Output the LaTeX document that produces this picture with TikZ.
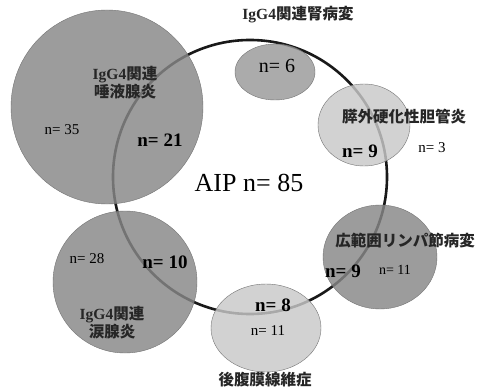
\documentclass[tikz,border=0pt]{standalone}
\usepackage{fontspec}
\setmainfont{Liberation Serif}
\newfontfamily\cjk{Noto Sans CJK JP}
\tikzset{
  venn/.style={draw=black!55, line width=0.4pt, fill opacity=0.82},
  dark/.style={venn, fill=black!47},
  mid/.style={venn, fill=black!40},
  light/.style={venn, fill=black!21},
  lbl/.style={font=\cjk\bfseries\fontsize{15.5}{18}\selectfont, text=black!85, inner sep=0pt, align=center},
  nsmall/.style={font=\fontsize{15}{17}\selectfont, inner sep=0pt},
  nbig/.style={font=\bfseries\fontsize{19}{21}\selectfont, inner sep=0pt},
}
\newcommand{\igg}{{\fontspec{Liberation Serif}\bfseries IgG4}}
\begin{document}
\begin{tikzpicture}[x=1pt,y=-1pt]
\useasboundingbox[fill=white] (0,0) rectangle (481,390);
% AIP circle
\draw[line width=2.6pt, black!90] (250,177) circle[radius=137];
% disease circles
\path[dark]  (107,107) circle[x radius=96, y radius=97];
\path[mid]   (275,72)  circle[x radius=40, y radius=28];
\path[light] (364,125) circle[x radius=46, y radius=41];
\path[dark]  (380,257) circle[x radius=57, y radius=52];
\path[dark]  (125,282) circle[x radius=72, y radius=71];
\path[light] (266,328) circle[x radius=55, y radius=44];
% labels
\node[lbl] (kid) at (298,15) {\igg 関連腎病変};
\node[lbl] (sal) at (125,83) {\igg 関連\\唾液腺炎};
\node[nsmall] (n35) at (62,130) {n= 35};
\node[nbig] (n21) at (160,140) {n= 21};
\node[font=\fontsize{26}{28}\selectfont, inner sep=0pt] (aip) at (249,183) {AIP n= 85};
\node[font=\fontsize{20}{22}\selectfont, inner sep=0pt] (n6) at (277,66) {n= 6};
\node[lbl] (bile) at (404,117) {膵外硬化性胆管炎};
\node[nbig] (n9a) at (360,151) {n= 9};
\node[nsmall] (n3) at (432,148) {n= 3};
\node[lbl] (lym) at (405,241) {広範囲リンパ節病変};
\node[nbig] (n9b) at (343,271) {n= 9};
\node[font=\fontsize{14}{16}\selectfont, inner sep=0pt] (n11a) at (395,270) {n= 11};
\node[nsmall] (n28) at (87,259) {n= 28};
\node[nbig] (n10) at (165,262) {n= 10};
\node[lbl] (lac) at (112,323) {\igg 関連\\涙腺炎};
\node[nbig] (n8) at (273,305) {n= 8};
\node[nsmall] (n11b) at (268,331) {n= 11};
\node[lbl] (ret) at (265,380) {後腹膜線維症};
\end{tikzpicture}
\end{document}
